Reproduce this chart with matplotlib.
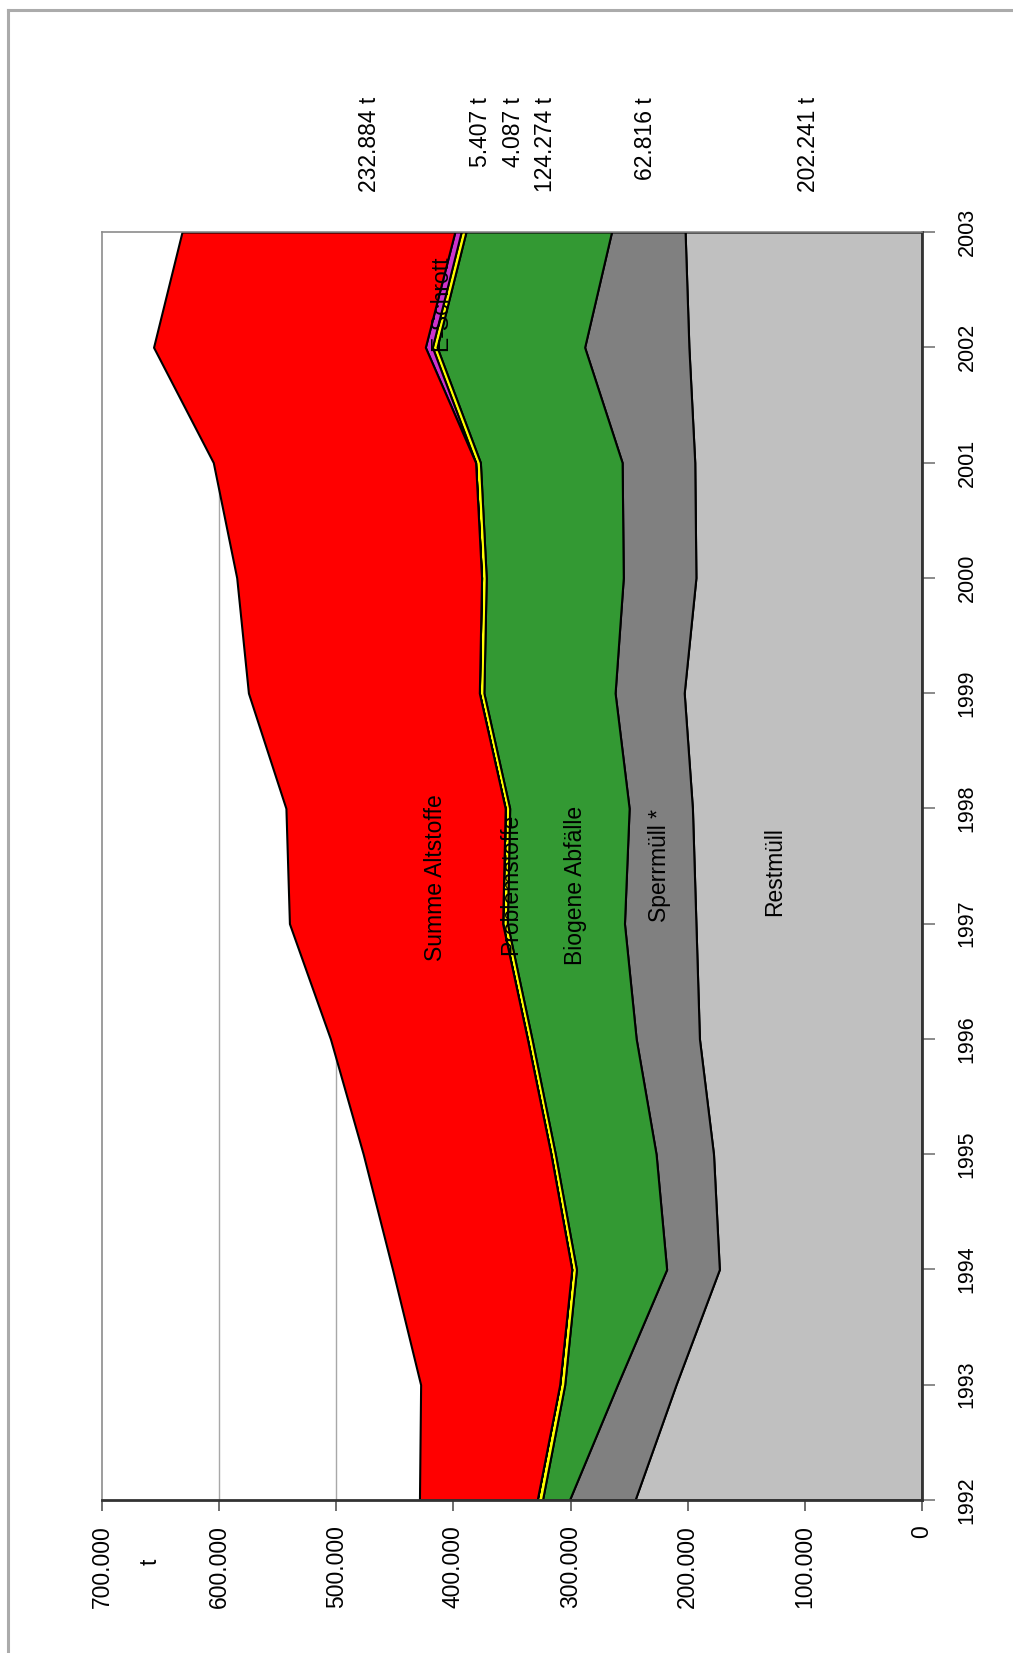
import matplotlib
matplotlib.use("Agg")
import matplotlib.pyplot as plt
import numpy as np

plt.rcParams['font.family'] = ['Liberation Sans', 'DejaVu Sans']

# Waste quantities per year (tonnes)
years = [1992, 1993, 1994, 1995, 1996, 1997, 1998, 1999, 2000, 2001, 2002, 2003]
restmuell = [245000, 210000, 173000, 178000, 190000, 193000, 196000, 203000, 193000, 194000, 199000, 202241]
sperrmuell = [56000, 50000, 45000, 49000, 54000, 61000, 54000, 59000, 62000, 62000, 89000, 62816]
biogen = [23000, 45000, 77000, 86000, 89000, 100000, 102000, 112000, 117000, 121000, 126000, 124274]
problemstoffe = [4500, 4300, 4000, 3800, 3900, 4000, 3800, 3900, 4000, 4100, 4000, 4087]
eschrott = [0, 0, 0, 0, 0, 0, 0, 0, 0, 0, 6000, 5407]
altstoffe = [100500, 118700, 153000, 160200, 168100, 182000, 187200, 197100, 209000, 223900, 232000, 232884]

series_names = ["Restmüll", "Sperrmüll *", "Biogene Abfälle", "Problemstoffe", "E-Schrott", "Summe Altstoffe"]
series_values = [restmuell, sperrmuell, biogen, problemstoffe, eschrott, altstoffe]
series_colors = ["#C0C0C0", "#808080", "#339933", "#FFFF00", "#CC33CC", "#FF0000"]

value_ticks = [0, 100000, 200000, 300000, 400000, 500000, 600000, 700000]

# name label anchors (value, year) inside the bands
name_pos = [(126000, 1997.45), (224000, 1997.50), (296000, 1997.33),
            (351000, 1997.34), (411000, 2002.38), (415000, 1997.40)]
# horizontal pixel positions of the 2003 totals shown above the plot
total_label_x = [808, 645, 545, 513, 480, 369]

W, H = 1013, 1653
fig = plt.figure(figsize=(W / 100, H / 100), dpi=100)

# outer chart frame (top and left edges)
fig.add_artist(plt.Line2D([8 / W, 1], [1 - 10 / H, 1 - 10 / H], color="#ABABAB", lw=2.2))
fig.add_artist(plt.Line2D([8 / W, 8 / W], [0, 1 - 10 / H], color="#ABABAB", lw=2.2))

left, right, top, bottom = 102, 922, 232, 1500
ax = fig.add_axes([left / W, 1 - bottom / H, (right - left) / W, (bottom - top) / H])

fsize = 16.5
y = np.array(years, dtype=float)
base = np.zeros(len(years))
for name, vals, col in zip(series_names, series_values, series_colors):
    upper = base + np.array(vals, dtype=float)
    ax.fill_betweenx(y, base, upper, facecolor=col, edgecolor="black", linewidth=1.5, zorder=2)
    base = upper

for v in value_ticks[1:-1]:
    ax.axvline(v, color="#A8A8A8", lw=1.0, zorder=0)

ax.set_xlim(700000, 0)
ax.set_ylim(1992, 2003)

ax.set_xticks(value_ticks)
ax.set_xticklabels([f"{v:,}".replace(",", ".") for v in value_ticks], rotation=90, fontsize=fsize)
ax.set_yticks(years)
ax.yaxis.tick_right()
ax.set_yticklabels([str(yr) for yr in years], rotation=90, va="center", fontsize=15.5)
ax.tick_params(axis="x", direction="out", length=8, width=1.2, pad=10, color="#555555")
ax.tick_params(axis="y", direction="out", length=9, width=1.2, pad=16, color="#777777")

for s in ["left", "top"]:
    ax.spines[s].set_color("#8C8C8C")
    ax.spines[s].set_linewidth(1.2)
for s in ["bottom", "right"]:
    ax.spines[s].set_color("#333333")
    ax.spines[s].set_linewidth(2.0)

# series names inside the chart
for name, (vx, vy) in zip(series_names, name_pos):
    ax.text(vx, vy, name, rotation=90, ha="center", va="center", fontsize=fsize, color="black",
            zorder=5)

# 2003 values above the plot
for vals, px in zip(series_values, total_label_x):
    txt = f"{vals[-1]:,}".replace(",", ".") + " t"
    fig.text(px / W, 1 - 97 / H, txt, rotation=90, ha="center", va="top", fontsize=fsize)

# unit label
fig.text(150 / W, 1 - 1562 / H, "t", rotation=90, ha="center", va="center", fontsize=fsize)

fig.savefig("out.png", dpi=100)
